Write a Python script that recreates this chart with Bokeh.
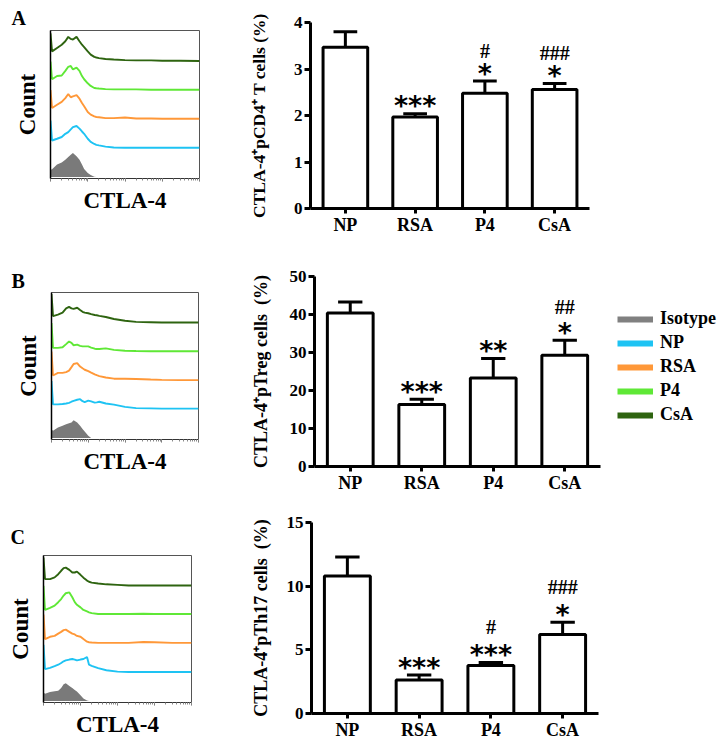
from bokeh.plotting import figure
from bokeh.layouts import column, row
from bokeh.models import Range1d, FixedTicker, LogTicker, Legend, LegendItem
from bokeh.core.properties import value
from bokeh.embed import file_html
from bokeh.resources import INLINE

# ---------------- data ----------------
groups = ["NP", "RSA", "P4", "CsA"]
series_names = ["Isotype", "NP", "RSA", "P4", "CsA"]

# CTLA-4 intensity grid (log axis) for the flow histograms
cyto_x = [1, 1.1, 1.5, 2, 2.5, 3, 3.5, 4, 5, 6, 7, 8, 10, 12, 15, 17, 20, 30, 50, 100, 200, 500, 1000, 3000, 10000]

# Panel A histograms (relative counts)
iso_A = [0.25, 0.27, 0.43, 0.50, 0.60, 0.69, 0.77, 0.83, 0.72, 0.60, 0.43, 0.28, 0.14, 0.07, 0.01, 0, 0, 0, 0, 0, 0, 0, 0, 0, 0]
np_A = [0.95, 0.26, 0.32, 0.38, 0.49, 0.55, 0.64, 0.72, 0.76, 0.67, 0.57, 0.49, 0.32, 0.21, 0.14, 0.11, 0.09, 0.05, 0.02, 0.01, 0.01, 0.01, 0.01, 0.01, 0.01]
rsa_A = [1.0, 0.38, 0.49, 0.59, 0.72, 0.86, 0.75, 0.78, 0.82, 0.70, 0.55, 0.44, 0.24, 0.15, 0.09, 0.07, 0.06, 0.03, 0.03, 0.05, 0.02, 0.02, 0.01, 0.01, 0.01]
p4_A = [0.98, 0.37, 0.48, 0.50, 0.66, 0.80, 0.83, 0.71, 0.77, 0.66, 0.48, 0.37, 0.23, 0.14, 0.07, 0.06, 0.05, 0.03, 0.02, 0.02, 0.02, 0.01, 0.01, 0.01, 0.01]
csa_A = [0.95, 0.33, 0.45, 0.56, 0.68, 0.83, 0.76, 0.74, 0.83, 0.68, 0.56, 0.48, 0.33, 0.22, 0.14, 0.12, 0.10, 0.07, 0.05, 0.03, 0.02, 0.02, 0.01, 0.01, 0.0]

# Panel B histograms
iso_B = [0.30, 0.25, 0.37, 0.43, 0.48, 0.51, 0.54, 0.62, 0.54, 0.43, 0.31, 0.23, 0.08, 0.0, 0, 0, 0, 0, 0, 0, 0, 0, 0, 0, 0]
np_B = [0.98, 0.17, 0.17, 0.18, 0.20, 0.22, 0.26, 0.29, 0.33, 0.35, 0.28, 0.25, 0.30, 0.27, 0.23, 0.24, 0.26, 0.20, 0.16, 0.08, 0.04, 0.03, 0.02, 0.02, 0.02]
rsa_B = [1.0, 0.17, 0.26, 0.26, 0.29, 0.34, 0.46, 0.57, 0.60, 0.48, 0.42, 0.37, 0.32, 0.27, 0.21, 0.18, 0.15, 0.10, 0.06, 0.06, 0.05, 0.03, 0.02, 0.01, 0.01]
p4_B = [0.99, 0.13, 0.13, 0.15, 0.26, 0.35, 0.30, 0.22, 0.24, 0.20, 0.18, 0.18, 0.18, 0.14, 0.10, 0.09, 0.09, 0.11, 0.06, 0.03, 0.02, 0.01, 0.01, 0.01, 0.01]
csa_B = [1.0, 0.23, 0.28, 0.35, 0.50, 0.55, 0.50, 0.48, 0.52, 0.44, 0.38, 0.35, 0.33, 0.30, 0.27, 0.26, 0.24, 0.20, 0.13, 0.07, 0.03, 0.02, 0.01, 0.01, 0.01]

# Panel C histograms
iso_C = [0.30, 0.25, 0.31, 0.34, 0.36, 0.45, 0.58, 0.62, 0.52, 0.45, 0.38, 0.33, 0.20, 0.09, 0.02, 0, 0, 0, 0, 0, 0, 0, 0, 0, 0]
np_C = [0.95, 0.11, 0.15, 0.21, 0.26, 0.32, 0.38, 0.41, 0.44, 0.46, 0.44, 0.41, 0.44, 0.46, 0.53, 0.26, 0.22, 0.14, 0.07, 0.02, 0.01, 0.01, 0.01, 0.01, 0.01]
rsa_C = [1.0, 0.15, 0.23, 0.26, 0.34, 0.40, 0.46, 0.48, 0.40, 0.34, 0.31, 0.26, 0.23, 0.15, 0.06, 0.04, 0.03, 0.02, 0.02, 0.02, 0.02, 0.05, 0.04, 0.02, 0.02]
p4_C = [1.0, 0.16, 0.23, 0.31, 0.43, 0.54, 0.66, 0.74, 0.77, 0.60, 0.43, 0.34, 0.25, 0.16, 0.11, 0.08, 0.05, 0.02, 0.02, 0.02, 0.02, 0.03, 0.02, 0.02, 0.02]
csa_C = [0.98, 0.23, 0.23, 0.29, 0.40, 0.52, 0.61, 0.63, 0.55, 0.46, 0.46, 0.49, 0.38, 0.28, 0.18, 0.14, 0.11, 0.08, 0.05, 0.03, 0.01, 0.01, 0.01, 0.01, 0.01]

# Bar charts (mean, SEM)
ctla4_cd4 = [3.47, 1.97, 2.48, 2.56]
ctla4_cd4_err = [0.33, 0.07, 0.26, 0.13]
ctla4_treg = [40.4, 16.3, 23.3, 29.3]
ctla4_treg_err = [2.9, 1.4, 5.1, 3.9]
ctla4_th17 = [10.8, 2.63, 3.76, 6.2]
ctla4_th17_err = [1.5, 0.39, 0.25, 0.97]

stars_A = ["", "***", "*", "*"]
hashes_A = ["", "", "#", "###"]
stars_B = ["", "***", "**", "*"]
hashes_B = ["", "", "", "##"]
stars_C = ["", "***", "***", "*"]
hashes_C = ["", "", "#", "###"]

yticks_A = [0, 1, 2, 3, 4]
yticks_B = [0, 10, 20, 30, 40, 50]
yticks_C = [0, 5, 10, 15]

# ---------------- styling ----------------
SERIF = "Liberation Serif"
line_colors = {"Isotype": "#808080", "NP": "#1ec3f3", "RSA": "#ff9838", "P4": "#5fe836", "CsA": "#2e6410"}
NBSP = "\u00a0"


def base_fig(w, h, bl, br, bt, bb, **kw):
    p = figure(width=w, height=h, output_backend="svg", toolbar_location=None,
               min_border_left=bl, min_border_right=br, min_border_top=bt, min_border_bottom=bb,
               background_fill_color="white", border_fill_color="white", **kw)
    p.grid.visible = False
    return p


def flow_fig(w, h, bl, br, bt, bb, traces, letter, loff, lstand):
    p = base_fig(w, h, bl, br, bt, bb, x_axis_type="log",
                 x_range=Range1d(1, 10000), y_range=Range1d(-0.05, 5.05))
    p.outline_line_color = "#555555"
    p.outline_line_width = 1
    for i, (name, ys) in enumerate(zip(series_names, traces)):
        if name == "Isotype":
            p.varea(x=cyto_x, y1=[0] * len(ys), y2=ys, fill_color="#7a7a7a")
        else:
            p.line(x=cyto_x, y=[i + y for y in ys], line_color=line_colors[name], line_width=1.9)
    xa = p.xaxis[0]
    xa.ticker = LogTicker(num_minor_ticks=10, desired_num_ticks=5)
    xa.major_label_text_font_size = "1px"
    xa.major_label_text_alpha = 0
    xa.major_label_standoff = 0
    xa.major_tick_in = 0
    xa.major_tick_out = 3
    xa.minor_tick_in = 0
    xa.minor_tick_out = 2
    xa.major_tick_line_color = "#666666"
    xa.minor_tick_line_color = "#888888"
    xa.axis_line_color = "#333333"
    xa.axis_label = "CTLA-4"
    xa.axis_label_standoff = 6
    ya = p.yaxis[0]
    ya.major_label_text_font_size = "1px"
    ya.major_label_text_alpha = 0
    ya.major_label_standoff = 0
    ya.major_tick_line_color = None
    ya.minor_tick_line_color = None
    ya.axis_line_color = "black"
    ya.axis_line_width = 1.5
    ya.axis_label = "Count"
    ya.axis_label_standoff = 5
    for ax in (xa, ya):
        ax.axis_label_text_font = SERIF
        ax.axis_label_text_font_style = "bold"
        ax.axis_label_text_font_size = "23px"
        ax.axis_label_text_color = "black"
    p.title.text = letter
    p.title.align = "left"
    p.title.offset = loff
    p.title.standoff = lstand
    p.title.text_font = SERIF
    p.title.text_font_style = "bold"
    p.title.text_font_size = "20px"
    p.title.text_color = "black"
    return p


def bar_fig(w, h, bl, br, bt, bb, vals, errs, ymax, yticks, ylabel, lsize, stars, hashes,
            standoff, hash_off):
    idx = list(range(len(groups)))
    p = base_fig(w, h, bl, br, bt, bb, x_range=Range1d(-0.5, len(groups) - 0.5),
                 y_range=Range1d(0, ymax))
    p.outline_line_color = None
    tops = [v + e for v, e in zip(vals, errs)]
    p.segment(x0=idx, y0=vals, x1=idx, y1=tops, line_color="black", line_width=3)
    p.segment(x0=[i - 0.17 for i in idx], y0=tops, x1=[i + 0.17 for i in idx], y1=tops,
              line_color="black", line_width=3)
    p.vbar(x=idx, top=vals, bottom=0, width=0.64, fill_color="white",
           line_color="black", line_width=3)
    p.text(x=idx, y=tops, text=stars, text_font=value("DejaVu Sans"), text_font_style="bold",
           text_font_size="27px", text_align="center", text_baseline="alphabetic", y_offset=-8)
    p.text(x=idx, y=tops, text=hashes, text_font=value(SERIF), text_font_style="bold",
           text_font_size="20px", text_align="center", text_baseline="alphabetic", y_offset=hash_off)
    xa = p.xaxis[0]
    xa.ticker = FixedTicker(ticks=idx)
    xa.major_label_overrides = {i: g for i, g in zip(idx, groups)}
    xa.major_label_text_font_size = "18px"
    xa.major_label_standoff = 1
    xa.major_tick_out = 5
    xa.major_tick_in = 0
    xa.minor_tick_line_color = None
    ya = p.yaxis[0]
    ya.ticker = FixedTicker(ticks=yticks)
    ya.major_label_text_font_size = "17px"
    ya.major_label_standoff = 2
    ya.major_tick_out = 6
    ya.major_tick_in = 0
    ya.minor_tick_line_color = None
    ya.axis_label = ylabel
    ya.axis_label_standoff = standoff
    ya.axis_label_text_font = SERIF
    ya.axis_label_text_font_style = "bold"
    ya.axis_label_text_font_size = lsize
    ya.axis_label_text_color = "black"
    for ax in (xa, ya):
        ax.axis_line_width = 3
        ax.axis_line_color = "black"
        ax.major_tick_line_width = 3
        ax.major_tick_line_color = "black"
        ax.major_label_text_font = SERIF
        ax.major_label_text_font_style = "bold"
        ax.major_label_text_color = "black"
    return p


# Row A (page y 0-240)
flowA = flow_fig(240, 240, 50, 41, 30, 62, [iso_A, np_A, rsa_A, p4_A, csa_A], "A", -39, 3)
barA = bar_fig(370, 240, 70, 21, 22, 32, ctla4_cd4, ctla4_cd4_err, 4, yticks_A,
               "CTLA-4\u207apCD4\u207a T cells (%)", "17.5px", stars_A, hashes_A, 22, -30)

# Row B (page y 240-497)
flowB = flow_fig(240, 257, 51, 42, 52, 58, [iso_B, np_B, rsa_B, p4_B, csa_B], "B", -40, 2)
barB = bar_fig(370, 257, 74, 10, 36, 31, ctla4_treg, ctla4_treg_err, 50, yticks_B,
               "CTLA-4\u207apTreg cells" + NBSP + NBSP + "(%)", "18px", stars_B, hashes_B, 16, -33)

legfig = base_fig(116, 257, 7, 0, 68, 0, x_range=Range1d(0, 1), y_range=Range1d(0, 1))
legfig.outline_line_color = None
legfig.axis.visible = False
items = []
for name in series_names:
    r = legfig.line(x=[0, 0], y=[-5, -5], line_color=line_colors[name], line_width=6)
    items.append(LegendItem(label=name, renderers=[r]))
legend = Legend(items=items, location="top_left", glyph_width=36, glyph_height=20,
                label_standoff=7, spacing=3, padding=0, margin=0,
                border_line_color=None, background_fill_alpha=0,
                label_text_font=SERIF, label_text_font_style="bold",
                label_text_font_size="18px", label_text_color="black")
legfig.add_layout(legend)

# Row C (page y 497-745)
flowC = flow_fig(240, 248, 43, 49, 58, 43, [iso_C, np_C, rsa_C, p4_C, csa_C], "C", -33, 16)
barC = bar_fig(370, 248, 71, 12, 25, 32, ctla4_th17, ctla4_th17_err, 15, yticks_C,
               "CTLA-4\u207apTh17 cells" + NBSP + NBSP + "(%)", "18px", stars_C, hashes_C, 13, -35)

layout = column(
    row(column(flowA), column(barA)),
    row(column(flowB), column(barB), column(legfig)),
    row(column(flowC), column(barC)),
)

open("out.html", "w").write(file_html(layout, INLINE))
